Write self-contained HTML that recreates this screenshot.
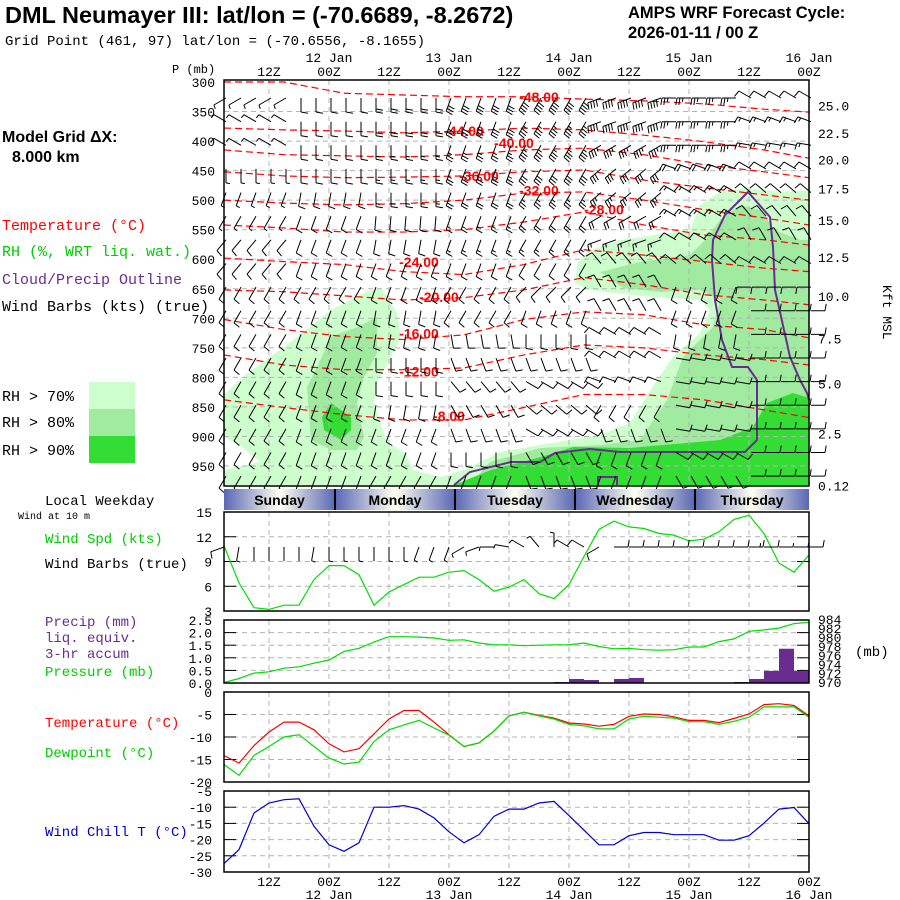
<!DOCTYPE html>
<html><head><meta charset="utf-8">
<style>
html,body{margin:0;padding:0;background:#fff;}
svg{display:block;font-family:"Liberation Sans",sans-serif;}
.lab{font-size:14px;font-family:"Liberation Mono","DejaVu Sans Mono",monospace;}
.leg{font-size:15px;font-family:"Liberation Mono","DejaVu Sans Mono",monospace;}
.tk{font-size:13px;font-family:"Liberation Mono","DejaVu Sans Mono",monospace;}
</style></head>
<body>
<svg id="chart" width="900" height="900" viewBox="0 0 900 900" xmlns="http://www.w3.org/2000/svg">
<defs>
<linearGradient id="dayg" x1="0" x2="1" y1="0" y2="0">
<stop offset="0" stop-color="#5a68b4"/><stop offset="0.5" stop-color="#fffff0"/><stop offset="1" stop-color="#5a68b4"/>
</linearGradient>
</defs>
<text x="5" y="23" font-size="23.5" font-weight="bold">DML Neumayer III:  lat/lon = (-70.6689, -8.2672)</text>
<text x="5" y="45" font-size="14" font-family="Liberation Mono, monospace">Grid Point (461, 97) lat/lon = (-70.6556, -8.1655)</text>
<text x="628" y="18" font-size="16.5" font-weight="bold">AMPS WRF Forecast Cycle:</text>
<text x="628" y="38" font-size="16.5" font-weight="bold">2026-01-11 / 00  Z</text>
<text x="2" y="142" font-size="16" font-weight="bold">Model Grid ΔX:</text>
<text x="12" y="162" font-size="16" font-weight="bold">8.000 km</text>
<text x="2" y="230" class="leg" fill="#ff0000">Temperature (°C)</text>
<text x="2" y="256" class="leg" fill="#00cc00">RH (%, WRT liq. wat.)</text>
<text x="2" y="284" class="leg" fill="#6a2c91">Cloud/Precip Outline</text>
<text x="2" y="311" class="leg">Wind Barbs (kts) (true)</text>
<rect x="89" y="382" width="46" height="27" fill="#ccffcc"/>
<rect x="89" y="409" width="46" height="27" fill="#a0eba0"/>
<rect x="89" y="436" width="46" height="27" fill="#33dd33"/>
<text x="2" y="401" class="leg">RH &gt; 70%</text>
<text x="2" y="427" class="leg">RH &gt; 80%</text>
<text x="2" y="455" class="leg">RH &gt; 90%</text>
<text x="172" y="73" font-size="12" font-family="Liberation Mono, monospace">P (mb)</text>
<text x="883" y="285" font-size="13" font-family="Liberation Mono, monospace" transform="rotate(90 883 285)">Kft MSL</text>
<text x="45" y="505" class="lab">Local Weekday</text>
<text x="18" y="519" font-size="10" font-family="Liberation Mono, monospace">Wind at 10 m</text>
<text x="45" y="543" class="lab" fill="#00cc00">Wind Spd (kts)</text>
<text x="45" y="568" class="lab">Wind Barbs (true)</text>
<text x="45" y="626" class="lab" fill="#6a2c91">Precip (mm)</text>
<text x="45" y="642" class="lab" fill="#6a2c91">liq. equiv.</text>
<text x="45" y="658" class="lab" fill="#6a2c91">3-hr accum</text>
<text x="45" y="676" class="lab" fill="#00cc00">Pressure (mb)</text>
<text x="45" y="727" class="lab" fill="#ff0000">Temperature (°C)</text>
<text x="45" y="757" class="lab" fill="#00cc00">Dewpoint (°C)</text>
<text x="45" y="836" class="lab" fill="#0000cc">Wind Chill T (°C)</text>
<text x="855" y="656" class="lab">(mb)</text>
<g id="g"></g>
</svg>
<script>
// ---------- data ----------
const hours = [];  // forecast hours of 3-hourly points (since 00Z 11 Jan)
for (let i = 0; i < 40; i++) hours.push(3 + 3 * i);
const windSpd = [10.9,6.4,3.4,3.2,3.7,3.7,6.8,8.5,8.5,7.4,3.7,5.3,6.2,7.1,7.1,7.7,7.9,6.8,5.4,5.9,6.8,5.1,4.5,6.2,9.6,12.9,13.9,13.2,13.0,12.4,12.2,11.5,11.7,12.6,14.1,14.6,12.4,8.8,7.7,9.8];
const windDir10 = [250,190,180,180,180,180,190,180,180,180,180,180,180,200,200,200,240,250,270,280,300,320,0,300,300,240,90,90,90,90,90,90,90,90,90,90,90,90,90,90];
const pressure = [970.1,971.0,972.2,972.5,973.3,973.6,974.4,975.1,977.0,977.7,979.1,980.3,980.3,980.2,980.0,979.5,979.6,978.9,978.5,978.5,978.3,978.4,978.5,978.5,978.9,978.1,977.6,977.7,977.4,977.3,977.4,978.0,978.0,979.2,979.8,981.5,981.8,982.2,983.2,983.5];
const precip = [0,0,0,0,0,0,0,0,0,0,0,0,0,0,0,0,0,0,0,0,0,0,0.04,0.16,0.12,0,0.16,0.2,0,0,0,0,0,0,0.04,0.16,0.48,1.36,0.48];
const temp = [-14.1,-15.8,-11.9,-8.9,-6.7,-6.7,-8.4,-11.5,-13.3,-12.6,-9.3,-6.0,-4.1,-4.1,-6.7,-9.5,-12.1,-11.3,-8.7,-5.3,-4.5,-5.2,-5.8,-6.9,-7.1,-7.6,-7.2,-5.4,-4.9,-5.0,-5.5,-6.3,-6.3,-6.8,-5.9,-4.9,-2.8,-2.6,-3.0,-5.3];
const dewpt = [-16.1,-18.5,-14.1,-12.1,-10.0,-9.5,-12.1,-14.7,-16.0,-15.6,-11.0,-8.4,-7.3,-6.3,-8.0,-9.6,-12.1,-11.3,-8.7,-5.3,-4.5,-5.3,-6.0,-7.2,-7.5,-8.2,-8.2,-6.0,-5.4,-5.6,-5.8,-6.6,-6.6,-7.2,-6.5,-5.6,-3.3,-3.3,-3.3,-5.6];
const windChill = [-27.4,-23.1,-11.8,-8.7,-7.7,-7.4,-15.9,-21.6,-23.6,-21.0,-10.0,-10.0,-9.5,-10.6,-13.3,-17.6,-21.0,-18.5,-12.8,-10.6,-10.6,-8.7,-8.2,-12.6,-17.1,-21.6,-21.6,-18.8,-17.8,-17.8,-18.5,-18.5,-18.5,-20.2,-20.2,-18.8,-14.9,-10.6,-10.1,-15.1];
const windTicks = [15,12,9,6,3];
const precipTicks = ['2.5','2.0','1.5','1.0','0.5','0.0'];
const presTicks = [984,982,980,978,976,974,972,970];
const tempTicks = [0,-5,-10,-15,-20];
const chillTicks = [-5,-10,-15,-20,-25,-30];
const pLevels = [300,350,400,450,500,550,600,650,700,750,800,850,900,950];
const kftTicks = ['25.0','22.5','20.0','17.5','15.0','12.5','10.0','7.5','5.0','2.5','0.12'];
const kftPres = [340,386,431,480,534,596,662,734,810,895,983];
const days = ['Sunday','Monday','Tuesday','Wednesday','Thursday'];
const dayStart = [3,25.2,49.2,73.2,97.2,120];
// temperature contours (pressure mb at anchor hours)
const contourHours = [3,15,27,39,51,63,75,87,99,111,120];
const contourLevels = [-48,-44,-40,-36,-32,-28,-24,-20,-16,-12,-8];
const contourPres = [
 [300,300,319,322,325,325,329,332,337,346,351],
 [378,381,383,386,383,378,381,390,401,415,429],
 [415,423,425,427,423,415,412,423,440,452,462],
 [452,459,462,461,459,452,449,466,479,491,500],
 [500,505,508,506,500,488,486,500,516,530,542],
 [542,547,554,554,550,537,520,542,559,567,576],
 [598,604,609,621,626,609,584,593,604,615,621],
 [652,655,662,669,665,652,631,643,660,669,677],
 [702,719,731,736,728,702,689,694,711,719,733],
 [762,779,787,787,784,762,745,750,762,770,779],
 [838,851,863,872,872,851,829,829,838,855,868]];
const contourLabelHour = [66,51,61,54,66,79,42,46,42,42,48];
const contourLabelPres = [325,383,403,459,484,516,605,664,726,790,865];
// wind barbs aloft: 17 rows x 8 groups (5 columns each)
const barbPres = [317,357,397,437,477,517,557,597,637,677,717,757,797,837,877,917,957];
const barbDir = [
 [240,180,180,200,210,250,270,300],[300,180,180,200,210,250,270,290],[300,180,180,200,210,240,270,280],
 [180,180,180,200,210,230,290,300],[200,190,180,200,210,230,300,310],[210,200,185,200,210,240,300,320],
 [220,200,190,200,210,250,300,330],[220,200,200,200,210,320,310,300],[210,210,200,210,225,330,200,270],
 [210,200,190,210,200,330,200,90],[210,200,190,170,180,300,190,90],[210,200,180,160,160,300,100,90],
 [210,200,180,140,120,290,100,90],[210,200,190,150,130,210,100,90],[210,200,200,160,120,160,100,90],
 [210,200,200,180,150,200,120,90],[210,200,210,200,160,200,150,90]];
const barbSpd = [
 [5,10,20,30,40,40,25,10],[5,10,20,30,35,40,25,15],[5,10,15,25,35,35,25,15],
 [5,10,15,25,30,30,20,10],[5,10,15,20,25,25,15,10],[5,10,10,15,20,20,15,10],
 [10,10,10,15,15,15,10,10],[10,10,10,10,10,10,10,10],[10,10,10,10,10,10,10,10],
 [10,10,10,10,10,10,10,10],[10,10,10,10,10,10,10,10],[10,10,10,10,10,10,10,10],
 [10,10,10,10,10,10,10,10],[10,10,10,10,10,10,10,10],[10,10,10,10,10,10,10,10],
 [10,10,10,10,10,10,10,10],[10,10,10,10,10,10,10,10]];
// RH shading outlines (panel pixel shapes)
const rh70 = [
 [[224,395],[245,375],[284,347],[331,310],[364,293],[381,287],[397,313],[401,337],[377,383],[374,403],[387,443],[404,452],[414,470],[441,477],[464,470],[500,452],[540,445],[600,435],[630,423],[640,407],[657,380],[673,357],[700,333],[710,310],[700,300],[640,296],[590,290],[575,283],[578,262],[590,250],[620,240],[690,230],[700,205],[720,192],[745,188],[780,192],[809,190],[809,485],[224,485],[224,470],[260,462],[240,445],[224,437]]];
const rh80 = [
 [[307,387],[317,367],[331,337],[357,327],[377,317],[377,353],[364,377],[357,403],[364,437],[357,450],[331,450],[311,440]],
 [[600,272],[640,262],[690,255],[705,240],[720,220],[740,205],[760,210],[775,230],[800,240],[809,240],[809,485],[470,485],[490,462],[540,448],[600,445],[640,440],[667,400],[683,357],[713,327],[720,300],[700,290],[660,292],[623,288]]];
const rh90 = [
 [[331,403],[351,417],[351,430],[341,440],[324,430],[322,417]],
 [[454,485],[491,470],[541,457],[573,447],[630,448],[720,440],[753,427],[767,403],[793,393],[809,398],[809,485]]];
const cloudOutline = [[454,485],[470,472],[511,462],[540,462],[555,453],[590,449],[620,452],[700,452],[745,452],[757,440],[757,380],[748,367],[732,367],[722,340],[715,300],[712,260],[713,240],[725,215],[748,192],[770,217],[773,247],[775,290],[778,303],[790,357],[800,380],[807,393],[809,400]];
const cloudBox = [[598,485],[598,477],[617,477],[617,485]];

// ---------- scales ----------
const X0 = 224, X1 = 809;
const X = h => X0 + (h - 3) * 5;
const YP = p => 82 + (p - 300) * 384 / 650;
const YW = v => 512 + (15 - v) * 99 / 12;
const YPR = v => 683 - v * 63 / 2.5;
const YPS = v => 683 - (v - 970) * 63 / 14;
const YT = v => 692 - v * 4.5;
const YC = v => 791 + (-5 - v) * 81 / 25;

const NS = 'http://www.w3.org/2000/svg';
const root = document.getElementById('g');
function mk(tag, attrs, parent) {
  const e = document.createElementNS(NS, tag);
  for (const k in attrs) e.setAttribute(k, attrs[k]);
  (parent || root).appendChild(e);
  return e;
}
function txt(x, y, s, attrs) {
  const e = mk('text', Object.assign({x: x, y: y}, attrs || {}));
  e.textContent = s;
  return e;
}
const gridHours = [12,24,36,48,60,72,84,96,108];
const panels = [[80,486],[512,611],[620,683],[692,782],[791,872]];

// ---------- main panel ----------
for (const poly of rh70) {
  const e = mk('polygon', {points: poly.map(p => p.join(',')).join(' '), fill: '#ccffcc'});
  
  
}
for (const poly of rh80) {
  const e = mk('polygon', {points: poly.map(p => p.join(',')).join(' '), fill: '#a0eba0'});
  
  
}
for (const poly of rh90) {
  const e = mk('polygon', {points: poly.map(p => p.join(',')).join(' '), fill: '#33dd33'});
  
  
}
for (const [t, b] of panels) {
  for (const h of gridHours) {
    const e = mk('line', {x1: X(h), x2: X(h), y1: t, y2: b, stroke: '#b4b4b4', 'stroke-dasharray': '5,4'});
    
    
  }
}
pLevels.forEach((p, i) => {
  const y = YP(p);
  if (i > 0) {
    const e = mk('line', {x1: X0, x2: X1, y1: y, y2: y, stroke: '#b4b4b4', 'stroke-dasharray': '5,4'});
    
    
  }
  const t = txt(215, y + 5, String(p), {'text-anchor': 'end', class: 'tk', 'font-size': '15'});
  
  
});
kftTicks.forEach((s, i) => {
  const t = txt(818, YP(kftPres[i]) + 5, s, {class: 'tk', 'font-size': '14'});
  
  
});
contourLevels.forEach((lv, k) => {
  const pts = contourHours.map((h, j) => X(h) + ',' + YP(contourPres[k][j])).join(' ');
  const e = mk('polyline', {points: pts, fill: 'none', stroke: '#ff0000', 'stroke-width': 1.2, 'stroke-dasharray': '7,4'});
  
  
  const t = txt(X(contourLabelHour[k]), YP(contourLabelPres[k]) + 5, lv.toFixed(2), {'text-anchor': 'middle', fill: '#ff0000', 'font-size': '14', 'font-weight': 'bold'});
  
  
});
{
  const e = mk('polyline', {points: cloudOutline.map(p => p.join(',')).join(' '), fill: 'none', stroke: '#6a2c91', 'stroke-width': 2});
  
  
  const b = mk('polyline', {points: cloudBox.map(p => p.join(',')).join(' '), fill: 'none', stroke: '#6a2c91', 'stroke-width': 2});
  
  
}
function barb(x, y, dir, spd, name) {
  const r = dir * Math.PI / 180;
  const dx = Math.sin(r), dy = -Math.cos(r);
  const L = 14;
  const tx = x + dx * L, ty = y + dy * L;
  let d = 'M' + x.toFixed(1) + ',' + y.toFixed(1) + 'L' + tx.toFixed(1) + ',' + ty.toFixed(1);
  const a = -80 * Math.PI / 180;
  const fx = dx * Math.cos(a) - dy * Math.sin(a), fy = dx * Math.sin(a) + dy * Math.cos(a);
  let n = Math.floor(spd / 10), half = (spd % 10) >= 5;
  let pos = 0;
  for (let i = 0; i < n; i++) {
    const bx = tx - dx * pos, by = ty - dy * pos;
    d += 'M' + bx.toFixed(1) + ',' + by.toFixed(1) + 'l' + (fx * 7).toFixed(1) + ',' + (fy * 7).toFixed(1);
    pos += 3;
  }
  if (half) {
    const bx = tx - dx * pos, by = ty - dy * pos;
    d += 'M' + bx.toFixed(1) + ',' + by.toFixed(1) + 'l' + (fx * 4).toFixed(1) + ',' + (fy * 4).toFixed(1);
  }
  const e = mk('path', {d: d, stroke: '#000', 'stroke-width': 1, fill: 'none'});
  
  
}
barbPres.forEach((p, r) => {
  for (let c = 0; c < 40; c++) {
    const gI = Math.floor(c / 5);
    barb(X(hours[c]) + 2, YP(p) + 6, barbDir[r][gI], barbSpd[r][gI], 'wind-barb-aloft');
  }
});
{
  const e = mk('rect', {x: X0, y: 80, width: X1 - X0, height: 406, fill: 'none', stroke: '#000', 'stroke-width': 1.5});
  
  
}
// time axes
for (let h = 12; h <= 120; h += 12) {
  const lbl = (h % 24 === 0) ? '00Z' : '12Z';
  const t = txt(X(h), 76, lbl, {'text-anchor': 'middle', class: 'tk'});
  
  
  const b = txt(X(h), 886, lbl, {'text-anchor': 'middle', class: 'tk'});
  
  
  if (h % 24 === 0) {
    const dt = (11 + h / 24) + ' Jan';
    const t2 = txt(X(h), 62, dt, {'text-anchor': 'middle', class: 'tk'});
    
    
    const b2 = txt(X(h), 899, dt, {'text-anchor': 'middle', class: 'tk'});
    
    
  }
}
days.forEach((d, i) => {
  const x1 = X(dayStart[i]), x2 = X(dayStart[i + 1]);
  const r = mk('rect', {x: x1, y: 489, width: x2 - x1, height: 21, fill: 'url(#dayg)'});
  
  
  if (i > 0) {
    const l = mk('line', {x1: x1, x2: x1, y1: 489, y2: 510, stroke: '#000', 'stroke-width': 2});
    
    
  }
  const t = txt((x1 + x2) / 2, 505, d, {'text-anchor': 'middle', 'font-size': '14', 'font-weight': 'bold'});
  
  
});
function hgrid(y, name) {
  const e = mk('line', {x1: X0, x2: X1, y1: y, y2: y, stroke: '#b4b4b4', 'stroke-dasharray': '5,4'});
  
  
  const a = mk('line', {x1: X0, x2: X0 + 12, y1: y, y2: y, stroke: '#000'});
  
  
  const b = mk('line', {x1: X1 - 12, x2: X1, y1: y, y2: y, stroke: '#000'});
  
  
}
windTicks.forEach(v => {
  hgrid(YW(v), 'wind-gridline');
  const t = txt(212, YW(v) + 5, String(v), {'text-anchor': 'end', class: 'tk'});
  
  
});
precipTicks.forEach(s => {
  hgrid(YPR(+s), 'precip-gridline');
  const t = txt(212, YPR(+s) + 5, s, {'text-anchor': 'end', class: 'tk'});
  
  
});
presTicks.forEach(v => {
  const t = txt(818, YPS(v) + 4, String(v), {class: 'tk', 'font-size': '10'});
  
  
});
tempTicks.forEach(v => {
  hgrid(YT(v), 'temp-gridline');
  const t = txt(212, YT(v) + 5, String(v), {'text-anchor': 'end', class: 'tk'});
  
  
});
chillTicks.forEach(v => {
  hgrid(YC(v), 'chill-gridline');
  const t = txt(212, YC(v) + 5, String(v), {'text-anchor': 'end', class: 'tk'});
  
  
});
function series(vals, fy, color, name) {
  const pts = vals.map((v, i) => X(hours[i]).toFixed(1) + ',' + fy(v).toFixed(1)).join(' ');
  const e = mk('polyline', {points: pts, fill: 'none', stroke: color, 'stroke-width': 1.2});
  
  
}
precip.forEach((v, i) => {
  if (v <= 0) return;
  const e = mk('rect', {x: X(hours[i]), y: YPR(v), width: 15, height: YPR(0) - YPR(v), fill: '#6a2c91'});
  
  
});
series(windSpd, YW, '#00dd00', 'wind-speed-line');
series(pressure, YPS, '#00dd00', 'pressure-line');
series(temp, YT, '#ff0000', 'temperature-line');
series(dewpt, YT, '#00dd00', 'dewpoint-line');
series(windChill, YC, '#0000cc', 'wind-chill-line');
windDir10.forEach((d, i) => {
  barb(X(hours[i]), 547, d, Math.round(windSpd[i]), 'wind-barb-10m');
});
panels.slice(1).forEach(([t, b]) => {
  const e = mk('rect', {x: X0, y: t, width: X1 - X0, height: b - t, fill: 'none', stroke: '#000', 'stroke-width': 1.5});
  
  
});
</script>
</body></html>
